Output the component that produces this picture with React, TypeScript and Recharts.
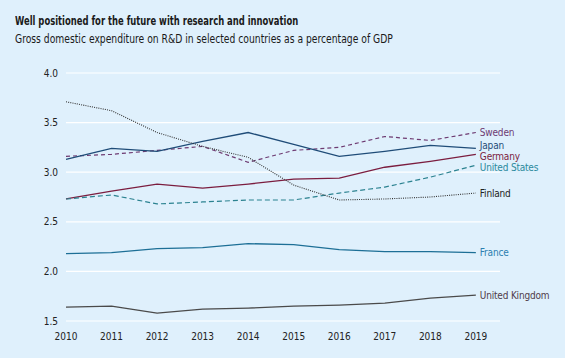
import { LineChart, Line, XAxis, YAxis, CartesianGrid } from "recharts";

const BG = "#dff0fc";
const FONT = "'DejaVu Sans Condensed', 'DejaVu Sans', sans-serif";

const years = [2010, 2011, 2012, 2013, 2014, 2015, 2016, 2017, 2018, 2019];
const yTicks = [1.5, 2.0, 2.5, 3.0, 3.5, 4.0];

const sweden = [3.16, 3.18, 3.22, 3.26, 3.1, 3.22, 3.25, 3.36, 3.32, 3.4];
const japan = [3.13, 3.24, 3.21, 3.31, 3.4, 3.28, 3.16, 3.21, 3.27, 3.24];
const germany = [2.73, 2.81, 2.88, 2.84, 2.88, 2.93, 2.94, 3.05, 3.11, 3.18];
const unitedStates = [2.73, 2.77, 2.68, 2.7, 2.72, 2.72, 2.79, 2.85, 2.95, 3.07];
const finland = [3.71, 3.62, 3.4, 3.26, 3.15, 2.87, 2.72, 2.73, 2.75, 2.79];
const france = [2.18, 2.19, 2.23, 2.24, 2.28, 2.27, 2.22, 2.2, 2.2, 2.19];
const unitedKingdom = [1.64, 1.65, 1.58, 1.62, 1.63, 1.65, 1.66, 1.68, 1.73, 1.76];

const series = [
  { key: "sweden", name: "Sweden", values: sweden, color: "#6e3b72", text: "#6e3b72", dash: "4 3", width: 1.2, dy: 0 },
  { key: "japan", name: "Japan", values: japan, color: "#1f4c78", text: "#1f4c78", dash: undefined, width: 1.3, dy: -3 },
  { key: "germany", name: "Germany", values: germany, color: "#7b1d3f", text: "#7b1d3f", dash: undefined, width: 1.3, dy: 2 },
  { key: "us", name: "United States", values: unitedStates, color: "#2b8290", text: "#2b8a9c", dash: "5 3", width: 1.2, dy: 2 },
  { key: "finland", name: "Finland", values: finland, color: "#333333", text: "#222222", dash: "1 1.2", width: 1.1, dy: 0 },
  { key: "france", name: "France", values: france, color: "#1d6f96", text: "#2d7fb0", dash: undefined, width: 1.3, dy: 0 },
  { key: "uk", name: "United Kingdom", values: unitedKingdom, color: "#4a4a4a", text: "#4f3b4a", dash: undefined, width: 1.3, dy: 0 },
];

const data = years.map((year, i) => {
  const row: Record<string, number> = { year };
  series.forEach((s) => {
    row[s.key] = s.values[i];
  });
  return row;
});

function endLabel(name: string, color: string, dy: number) {
  return (props: any) => {
    const { x, y, index } = props;
    if (index !== years.length - 1) return null;
    return (
      <text
        x={x + 4}
        y={y + dy}
        dy="0.35em"
        fill={color}
        fontSize={10}
        letterSpacing={-0.2}
        fontFamily={FONT}
      >
        {name}
      </text>
    );
  };
}

export default function App() {
  return (
    <div
      style={{
        position: "absolute",
        left: 0,
        top: 0,
        width: 565,
        height: 358,
        background: BG,
        fontFamily: FONT,
        overflow: "hidden",
      }}
    >
      <div
        style={{
          position: "absolute",
          left: 15,
          top: 14,
          fontSize: 12,
          fontWeight: 700,
          color: "#1a1a1a",
          whiteSpace: "nowrap",
          transform: "scaleX(0.78)",
          transformOrigin: "left center",
        }}
      >
        Well positioned for the future with research and innovation
      </div>
      <div
        style={{
          position: "absolute",
          left: 15,
          top: 32,
          fontSize: 11.5,
          color: "#1a1a1a",
          whiteSpace: "nowrap",
          transform: "scaleX(0.89)",
          transformOrigin: "left center",
        }}
      >
        Gross domestic expenditure on R&amp;D in selected countries as a percentage of GDP
      </div>
      <LineChart
        width={565}
        height={358}
        data={data}
        margin={{ top: 73, right: 65, left: 0, bottom: 7 }}
        style={{ position: "absolute", left: 0, top: 0 }}
      >
        <CartesianGrid vertical={false} stroke="#ffffff" strokeWidth={1.2} />
        <XAxis
          dataKey="year"
          type="number"
          domain={[2010, 2019.53]}
          ticks={years}
          axisLine={false}
          tickLine={false}
          tickMargin={6}
          tick={{ fill: "#222", fontSize: 10, fontFamily: FONT }}
        />
        <YAxis
          width={66}
          domain={[1.5, 4.0]}
          ticks={yTicks}
          axisLine={false}
          tickLine={false}
          tickFormatter={(v: number) => v.toFixed(1)}
          tick={{ fill: "#222", fontSize: 10, fontFamily: FONT }}
        />
        {series.map((s) => (
          <Line
            key={s.key}
            dataKey={s.key}
            type="linear"
            stroke={s.color}
            strokeWidth={s.width}
            strokeDasharray={s.dash}
            dot={false}
            activeDot={false}
            isAnimationActive={false}
            label={endLabel(s.name, s.text, s.dy)}
          />
        ))}
      </LineChart>
    </div>
  );
}
